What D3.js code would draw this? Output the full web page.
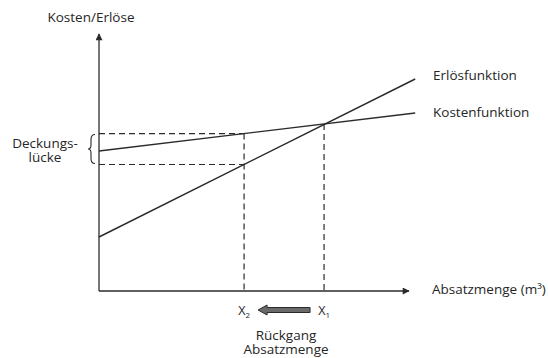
<!DOCTYPE html>
<html>
<head>
<meta charset="utf-8">
<script src="https://cdn.jsdelivr.net/npm/d3@7"></script>
<style>
  body { margin: 0; background: #fff; }
  text { font-family: 'Open Sans', sans-serif; fill: #262626; }
</style>
</head>
<body>
<div id="chart"></div>
<script>
// line end points (abstract units)
const kostenPoints = [{ x: 0, y: 140 }, { x: 102, y: 178 }]
const erloesPoints = [{ x: 0, y: 54 }, { x: 102, y: 212 }]
const x1Value = 72.6
const x2Value = 46.8
const lineLabels = ['Erlösfunktion', 'Kostenfunktion']

let width = 548
let height = 358
const fs = 13.5

let svg = d3.select('#chart').append('svg')
  .attr('width', width).attr('height', height)

const x = d3.scaleLinear().domain([0, 100]).range([99, 409])
const y = d3.scaleLinear().domain([0, 257]).range([291, 34])

const ink = '#2b2b2b'

// value of a two point line at xv
function at(points, xv) {
  const t = (xv - points[0].x) / (points[1].x - points[0].x)
  return points[0].y + t * (points[1].y - points[0].y)
}

const line = d3.line().x(d => x(d.x)).y(d => y(d.y))

// arrow markers
const defs = svg.append('defs')
defs.append('marker').attr('id', 'arr')
  .attr('viewBox', '0 0 10 10').attr('refX', 9).attr('refY', 5)
  .attr('markerWidth', 9).attr('markerHeight', 7).attr('markerUnits', 'userSpaceOnUse')
  .attr('orient', 'auto')
  .append('path').attr('d', 'M0,0 L10,5 L0,10 z').attr('fill', ink)

// axes
svg.append('line').attr('x1', x(0)).attr('y1', y(0)).attr('x2', x(0)).attr('y2', y(257))
  .attr('stroke', ink).attr('stroke-width', 1.3).attr('marker-end', 'url(#arr)')
svg.append('line').attr('x1', x(0)).attr('y1', y(0)).attr('x2', x(100)).attr('y2', y(0))
  .attr('stroke', ink).attr('stroke-width', 1.3).attr('marker-end', 'url(#arr)')

// dashed guides
const dash = '6,4'
const kAtX2 = at(kostenPoints, x2Value)
const eAtX2 = at(erloesPoints, x2Value)
const kAtX1 = at(kostenPoints, x1Value)

svg.append('line').attr('x1', x(0)).attr('x2', x(x2Value)).attr('y1', y(kAtX2)).attr('y2', y(kAtX2))
  .attr('stroke', ink).attr('stroke-width', 1.2).attr('stroke-dasharray', dash)
svg.append('line').attr('x1', x(0)).attr('x2', x(x2Value)).attr('y1', y(eAtX2)).attr('y2', y(eAtX2))
  .attr('stroke', ink).attr('stroke-width', 1.2).attr('stroke-dasharray', dash)
svg.append('line').attr('x1', x(x2Value)).attr('x2', x(x2Value)).attr('y1', y(kAtX2)).attr('y2', y(0))
  .attr('stroke', ink).attr('stroke-width', 1.2).attr('stroke-dasharray', dash)
svg.append('line').attr('x1', x(x1Value)).attr('x2', x(x1Value)).attr('y1', y(kAtX1)).attr('y2', y(0))
  .attr('stroke', ink).attr('stroke-width', 1.2).attr('stroke-dasharray', dash)

// function lines
svg.append('path').datum(erloesPoints).attr('d', line)
  .attr('fill', 'none').attr('stroke', ink).attr('stroke-width', 1.4)
svg.append('path').datum(kostenPoints).attr('d', line)
  .attr('fill', 'none').attr('stroke', ink).attr('stroke-width', 1.4)

svg.append('text').attr('x', 433).attr('y', y(erloesPoints[1].y) + 1).text(lineLabels[0])
  .attr('font-size', fs)
svg.append('text').attr('x', 433).attr('y', y(kostenPoints[1].y) + 4).text(lineLabels[1])
  .attr('font-size', fs)

// axis titles
svg.append('text').attr('x', 91).attr('y', 22).attr('text-anchor', 'middle')
  .attr('font-size', fs).text('Kosten/Erlöse')
svg.append('text').attr('x', 432).attr('y', y(0) + 3).attr('font-size', fs)
  .text('Absatzmenge (m³)')

// two line label as one text element
function twoLines(cx, by, a, b) {
  const t = svg.append('text').attr('x', cx).attr('y', by).attr('text-anchor', 'middle')
    .attr('font-size', fs)
  t.append('tspan').attr('x', cx).text(a)
  t.append('tspan').attr('x', cx).attr('dy', 13.5).text(b)
}

// brace for Deckungslücke
const bx = x(0) - 8
const bTop = y(kAtX2) + 1, bBot = y(eAtX2) - 1, bMid = (bTop + bBot) / 2
svg.append('path')
  .attr('d', `M${bx + 4},${bTop} Q${bx},${bTop} ${bx},${bTop + 5} L${bx},${bMid - 4} Q${bx},${bMid} ${bx - 3},${bMid} ` +
    `Q${bx},${bMid} ${bx},${bMid + 4} L${bx},${bBot - 5} Q${bx},${bBot} ${bx + 4},${bBot}`)
  .attr('fill', 'none').attr('stroke', ink).attr('stroke-width', 1.1)
twoLines(45, 148, 'Deckungs-', 'lücke')

// X1 / X2 labels
function xLabel(xv, sub) {
  const t = svg.append('text').attr('x', x(xv)).attr('y', 315).attr('text-anchor', 'middle')
    .attr('font-size', 12.5)
  t.append('tspan').text('X')
  t.append('tspan').attr('font-size', 8).attr('dy', 3).text(sub)
}
xLabel(x2Value, '2')
xLabel(x1Value, '1')

// thick arrow from X1 to X2
const ay = 310
const ax0 = x(x2Value) + 14, ax1 = x(x1Value) - 14
svg.append('path')
  .attr('d', `M${ax0},${ay} L${ax0 + 9},${ay - 5} L${ax0 + 9},${ay - 2.5} L${ax1},${ay - 2.5} ` +
    `L${ax1},${ay + 2.5} L${ax0 + 9},${ay + 2.5} L${ax0 + 9},${ay + 5} z`)
  .attr('fill', '#6a6a6a').attr('stroke', ink).attr('stroke-width', 1)

twoLines(286, 340, 'Rückgang', 'Absatzmenge')
</script>
</body>
</html>
